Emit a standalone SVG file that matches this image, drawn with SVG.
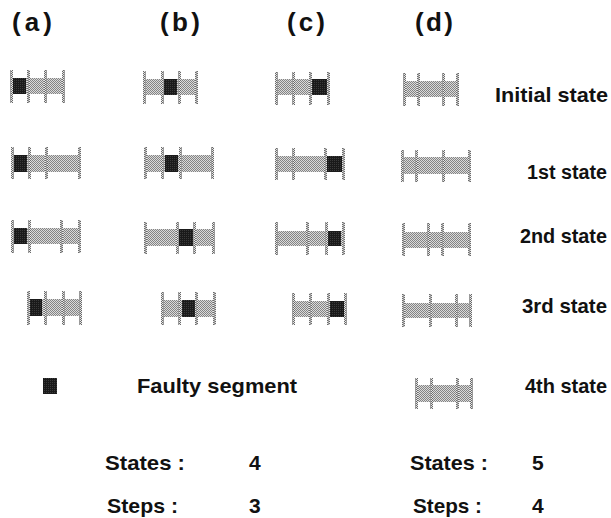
<svg xmlns="http://www.w3.org/2000/svg" width="611" height="518" viewBox="0 0 611 518">
  <defs>
    <!-- halftone fills -->
    <pattern id="grey" width="2" height="2" patternUnits="userSpaceOnUse">
      <rect width="2" height="2" fill="#dadada"/>
      <rect width="1" height="1" fill="#848484"/>
      <rect x="1" y="1" width="1" height="1" fill="#848484"/>
    </pattern>
    <pattern id="dark" width="2" height="2" patternUnits="userSpaceOnUse">
      <rect width="2" height="2" fill="#1a1a1a"/>
      <rect width="1" height="1" fill="#3a3a3a"/>
    </pattern>
    <pattern id="tick" width="3" height="2" patternUnits="userSpaceOnUse">
      <rect width="3" height="2" fill="#e6e6e6"/>
      <rect width="1" height="1" fill="#6a6a6a"/>
      <rect x="2" y="1" width="1" height="1" fill="#6a6a6a"/>
      <rect x="1" y="0" width="1" height="2" fill="#9a9a9a"/>
    </pattern>
  </defs>
  <style>
    .bar { fill: url(#grey); }
    .seg { fill: url(#dark); }
    .tk { fill: url(#tick); }
    text { font-family: "Liberation Sans", Arial, sans-serif; font-weight: bold; fill: #111; }
    .hd { font-size: 26px; }
    .lb { font-size: 21px; }
    .sm { font-size: 20px; }
  </style>

  <!-- column headings -->
  <g id="headings">
    <text class="hd" x="12" y="31" textLength="40" lengthAdjust="spacing">(a)</text>
    <text class="hd" x="160" y="31" textLength="40" lengthAdjust="spacing">(b)</text>
    <text class="hd" x="287" y="31" textLength="38" lengthAdjust="spacing">(c)</text>
    <text class="hd" x="415" y="31" textLength="38" lengthAdjust="spacing">(d)</text>
  </g>

  <!-- state labels -->
  <g id="state-labels">
    <text class="lb" x="495" y="102" textLength="113" lengthAdjust="spacingAndGlyphs">Initial state</text>
    <text class="sm" x="527" y="179" textLength="80" lengthAdjust="spacingAndGlyphs">1st state</text>
    <text class="lb" x="520" y="243" textLength="87" lengthAdjust="spacingAndGlyphs">2nd state</text>
    <text class="lb" x="522" y="313" textLength="85" lengthAdjust="spacingAndGlyphs">3rd state</text>
    <text class="lb" x="525" y="393" textLength="82" lengthAdjust="spacingAndGlyphs">4th state</text>
  </g>

  <!-- initial state -->
  <g id="a0">
    <rect class="bar" x="11" y="78" width="52" height="16"/>
    <rect class="seg" x="12" y="78" width="14" height="16"/>
    <rect class="tk" x="10" y="70" width="3" height="33"/><rect class="tk" x="27" y="70" width="3" height="33"/>
    <rect class="tk" x="44" y="70" width="3" height="33"/><rect class="tk" x="62" y="70" width="3" height="33"/>
  </g>
  <g id="b0">
    <rect class="bar" x="144" y="79" width="52" height="16"/>
    <rect class="seg" x="164" y="79" width="13" height="16"/>
    <rect class="tk" x="143" y="71" width="3" height="33"/><rect class="tk" x="161" y="71" width="3" height="33"/>
    <rect class="tk" x="178" y="71" width="3" height="33"/><rect class="tk" x="195" y="71" width="3" height="33"/>
  </g>
  <g id="c0">
    <rect class="bar" x="276" y="79" width="52" height="16"/>
    <rect class="seg" x="312" y="79" width="16" height="16"/>
    <rect class="tk" x="275" y="72" width="3" height="33"/><rect class="tk" x="292" y="72" width="3" height="33"/>
    <rect class="tk" x="309" y="72" width="3" height="33"/><rect class="tk" x="327" y="72" width="3" height="33"/>
  </g>
  <g id="d0">
    <rect class="bar" x="404" y="81" width="53" height="16"/>
    <rect class="tk" x="403" y="73" width="3" height="33"/><rect class="tk" x="417" y="73" width="3" height="33"/>
    <rect class="tk" x="442" y="73" width="3" height="33"/><rect class="tk" x="456" y="73" width="3" height="33"/>
  </g>

  <!-- 1st state -->
  <g id="a1">
    <rect class="bar" x="12" y="155" width="67" height="17"/>
    <rect class="seg" x="13" y="155" width="14" height="17"/>
    <rect class="tk" x="11" y="147" width="3" height="32"/><rect class="tk" x="28" y="147" width="3" height="32"/>
    <rect class="tk" x="45" y="147" width="3" height="32"/><rect class="tk" x="78" y="147" width="3" height="32"/>
  </g>
  <g id="b1">
    <rect class="bar" x="145" y="155" width="67" height="17"/>
    <rect class="seg" x="165" y="155" width="13" height="17"/>
    <rect class="tk" x="144" y="147" width="3" height="32"/><rect class="tk" x="161" y="147" width="3" height="32"/>
    <rect class="tk" x="179" y="147" width="3" height="32"/><rect class="tk" x="211" y="147" width="3" height="32"/>
  </g>
  <g id="c1">
    <rect class="bar" x="276" y="156" width="67" height="16"/>
    <rect class="seg" x="327" y="156" width="16" height="16"/>
    <rect class="tk" x="275" y="148" width="3" height="32"/><rect class="tk" x="292" y="148" width="3" height="32"/>
    <rect class="tk" x="324" y="148" width="3" height="32"/><rect class="tk" x="342" y="148" width="3" height="32"/>
  </g>
  <g id="d1">
    <rect class="bar" x="402" y="157" width="67" height="17"/>
    <rect class="tk" x="401" y="150" width="3" height="32"/><rect class="tk" x="415" y="150" width="3" height="32"/>
    <rect class="tk" x="442" y="150" width="3" height="32"/><rect class="tk" x="468" y="150" width="3" height="32"/>
  </g>

  <!-- 2nd state -->
  <g id="a2">
    <rect class="bar" x="12" y="228" width="67" height="16"/>
    <rect class="seg" x="13" y="228" width="14" height="16"/>
    <rect class="tk" x="11" y="220" width="3" height="33"/><rect class="tk" x="28" y="220" width="3" height="33"/>
    <rect class="tk" x="60" y="220" width="3" height="33"/><rect class="tk" x="78" y="220" width="3" height="33"/>
  </g>
  <g id="b2">
    <rect class="bar" x="145" y="229" width="68" height="17"/>
    <rect class="seg" x="178" y="229" width="16" height="17"/>
    <rect class="tk" x="144" y="222" width="3" height="32"/><rect class="tk" x="176" y="222" width="3" height="32"/>
    <rect class="tk" x="193" y="222" width="3" height="32"/><rect class="tk" x="212" y="222" width="3" height="32"/>
  </g>
  <g id="c2">
    <rect class="bar" x="276" y="231" width="67" height="15"/>
    <rect class="seg" x="328" y="231" width="13" height="15"/>
    <rect class="tk" x="275" y="222" width="3" height="33"/><rect class="tk" x="306" y="222" width="3" height="33"/>
    <rect class="tk" x="325" y="222" width="3" height="33"/><rect class="tk" x="342" y="222" width="3" height="33"/>
  </g>
  <g id="d2">
    <rect class="bar" x="403" y="232" width="66" height="16"/>
    <rect class="tk" x="402" y="223" width="3" height="33"/><rect class="tk" x="427" y="223" width="3" height="33"/>
    <rect class="tk" x="441" y="223" width="3" height="33"/><rect class="tk" x="468" y="223" width="3" height="33"/>
  </g>

  <!-- 3rd state -->
  <g id="a3">
    <rect class="bar" x="28" y="299" width="52" height="17"/>
    <rect class="seg" x="29" y="299" width="13" height="17"/>
    <rect class="tk" x="27" y="291" width="3" height="34"/><rect class="tk" x="44" y="291" width="3" height="34"/>
    <rect class="tk" x="62" y="291" width="3" height="34"/><rect class="tk" x="79" y="291" width="3" height="34"/>
  </g>
  <g id="b3">
    <rect class="bar" x="162" y="300" width="52" height="17"/>
    <rect class="seg" x="182" y="300" width="13" height="17"/>
    <rect class="tk" x="161" y="292" width="3" height="33"/><rect class="tk" x="178" y="292" width="3" height="33"/>
    <rect class="tk" x="195" y="292" width="3" height="33"/><rect class="tk" x="213" y="292" width="3" height="33"/>
  </g>
  <g id="c3">
    <rect class="bar" x="293" y="301" width="52" height="16"/>
    <rect class="seg" x="329" y="301" width="16" height="16"/>
    <rect class="tk" x="292" y="293" width="3" height="32"/><rect class="tk" x="309" y="293" width="3" height="32"/>
    <rect class="tk" x="327" y="293" width="3" height="32"/><rect class="tk" x="344" y="293" width="3" height="32"/>
  </g>
  <g id="d3">
    <rect class="bar" x="403" y="303" width="67" height="15"/>
    <rect class="tk" x="402" y="294" width="3" height="33"/><rect class="tk" x="429" y="294" width="3" height="33"/>
    <rect class="tk" x="455" y="294" width="3" height="33"/><rect class="tk" x="469" y="294" width="3" height="33"/>
  </g>

  <!-- 4th state -->
  <g id="d4">
    <rect class="bar" x="416" y="385" width="55" height="17"/>
    <rect class="tk" x="415" y="378" width="3" height="31"/><rect class="tk" x="430" y="378" width="3" height="31"/>
    <rect class="tk" x="456" y="378" width="3" height="31"/><rect class="tk" x="470" y="378" width="3" height="31"/>
  </g>

  <!-- legend -->
  <g id="legend">
    <rect class="seg" x="43" y="378" width="14" height="16"/>
    <text class="lb" x="137" y="393" textLength="160" lengthAdjust="spacingAndGlyphs">Faulty segment</text>
  </g>

  <!-- counts -->
  <g id="counts-left">
    <text class="lb" x="105" y="470" textLength="80" lengthAdjust="spacingAndGlyphs">States :</text>
    <text class="lb" x="249" y="470">4</text>
    <text class="lb" x="107" y="513" textLength="71" lengthAdjust="spacingAndGlyphs">Steps :</text>
    <text class="lb" x="249" y="513">3</text>
  </g>
  <g id="counts-right">
    <text class="lb" x="410" y="470" textLength="78" lengthAdjust="spacingAndGlyphs">States :</text>
    <text class="lb" x="532" y="470">5</text>
    <text class="lb" x="413" y="513" textLength="69" lengthAdjust="spacingAndGlyphs">Steps :</text>
    <text class="lb" x="532" y="513">4</text>
  </g>
</svg>
